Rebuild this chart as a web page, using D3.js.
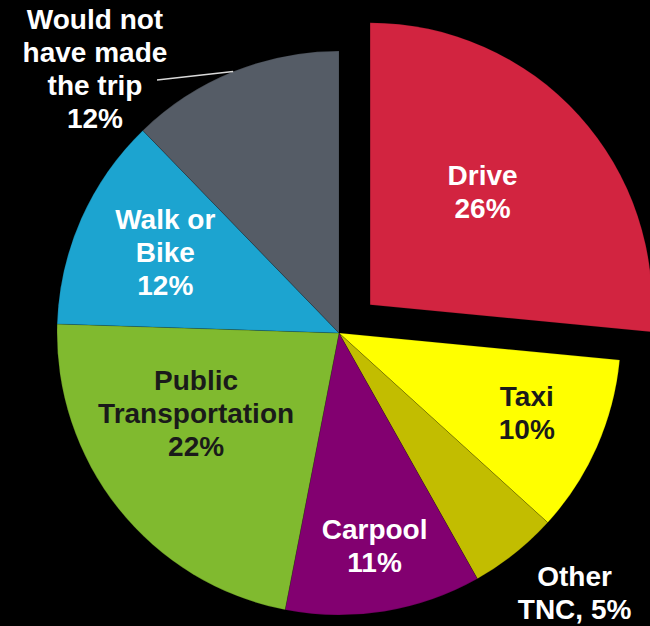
<!DOCTYPE html>
<html>
<head>
<meta charset="utf-8">
<script src="https://cdn.jsdelivr.net/npm/d3@7"></script>
<style>
  html, body { margin: 0; padding: 0; background: #000; }
  svg { display: block; }
  .lbl { font-family: "Liberation Sans", Arial, sans-serif; font-weight: bold; font-size: 28px; text-anchor: middle; }
</style>
</head>
<body>
<div id="chart"></div>
<script>
// data
var categories = ["Drive", "Taxi", "Other TNC", "Carpool", "Public Transportation", "Walk or Bike", "Would not have made the trip"];
var values = [26, 10, 5, 11, 22, 12, 12];
var colors = ["#d22440", "#ffff00", "#c2bd00", "#820070", "#80ba2f", "#1ca4d0", "#555c66"];

// label lines for each slice (text, not positions)
var labelLines = [
  ["Drive", "26%"],
  ["Taxi", "10%"],
  ["Other", "TNC, 5%"],
  ["Carpool", "11%"],
  ["Public", "Transportation", "22%"],
  ["Walk or", "Bike", "12%"],
  ["Would not", "have made", "the trip", "12%"]
];

var width = 650, height = 626;
var cx = 339, cy = 333;
var radius = 282;
var explode = 42;
var lineH = 33;

// label placement: radius from centre, angle shift (deg), extra dy, text colour
var labelLayout = [
  {r: 157, shift: -2, dy: 0, fill: "#fff"},
  {r: 207, shift: 1, dy: -4, fill: "#1a1a1a"},
  {r: 355, shift: -3, dy: -2, fill: "#fff"},
  {r: 223, shift: 0, dy: -4, fill: "#fff"},
  {r: 166, shift: 8, dy: 0, fill: "#1a1a1a"},
  {r: 190, shift: 0, dy: 0, fill: "#fff"},
  {r: 351, shift: -22, dy: -8, fill: "#fff"}
];

var svg = d3.select("#chart").append("svg")
  .attr("width", width)
  .attr("height", height)

svg.append("rect").attr("width", width).attr("height", height).attr("fill", "#000")

var g = svg.append("g").attr("transform", "translate(" + cx + "," + cy + ")")

var pie = d3.pie().sort(null).value(function(d){ return d; })
var arcs = pie(values)

var arc = d3.arc().innerRadius(0).outerRadius(radius)

function mid(d){ return (d.startAngle + d.endAngle) / 2 }

g.selectAll("path.slice")
  .data(arcs)
  .enter().append("path")
    .attr("class", "slice")
    .attr("d", arc)
    .attr("fill", function(d, i){ return colors[i] })
    .attr("stroke", "rgba(0,0,0,0.25)")
    .attr("stroke-width", 0.6)
    .attr("transform", function(d, i){
      if (i != 0) return ""
      var a = mid(d)
      return "translate(" + (explode * Math.sin(a)) + "," + (-explode * Math.cos(a)) + ")"
    })

// leader line for the last label
var last = arcs[arcs.length - 1]
var la = mid(last)
g.append("line")
  .attr("x1", radius * Math.sin(la))
  .attr("y1", -radius * Math.cos(la))
  .attr("x2", 157 - cx)
  .attr("y2", 80 - cy)
  .attr("stroke", "#d9d9d9")
  .attr("stroke-width", 1.5)

var labels = g.selectAll("text.lbl")
  .data(arcs)
  .enter().append("text")
    .attr("class", "lbl")
    .attr("fill", function(d, i){ return labelLayout[i].fill })
    .attr("transform", function(d, i){
      var a = mid(d) + labelLayout[i].shift * Math.PI / 180
      var r = labelLayout[i].r
      var x = r * Math.sin(a), y = -r * Math.cos(a) + labelLayout[i].dy
      if (i == 0) { x += explode * Math.sin(mid(d)); y -= explode * Math.cos(mid(d)) }
      return "translate(" + x + "," + y + ")"
    })

labels.each(function(d, i){
  var lines = labelLines[i]
  var t = d3.select(this)
  var top = -(lines.length - 1) * lineH / 2 + 6
  lines.forEach(function(s, k){
    t.append("tspan").attr("x", 0).attr("y", top + k * lineH).text(s)
  })
})
</script>
</body>
</html>
